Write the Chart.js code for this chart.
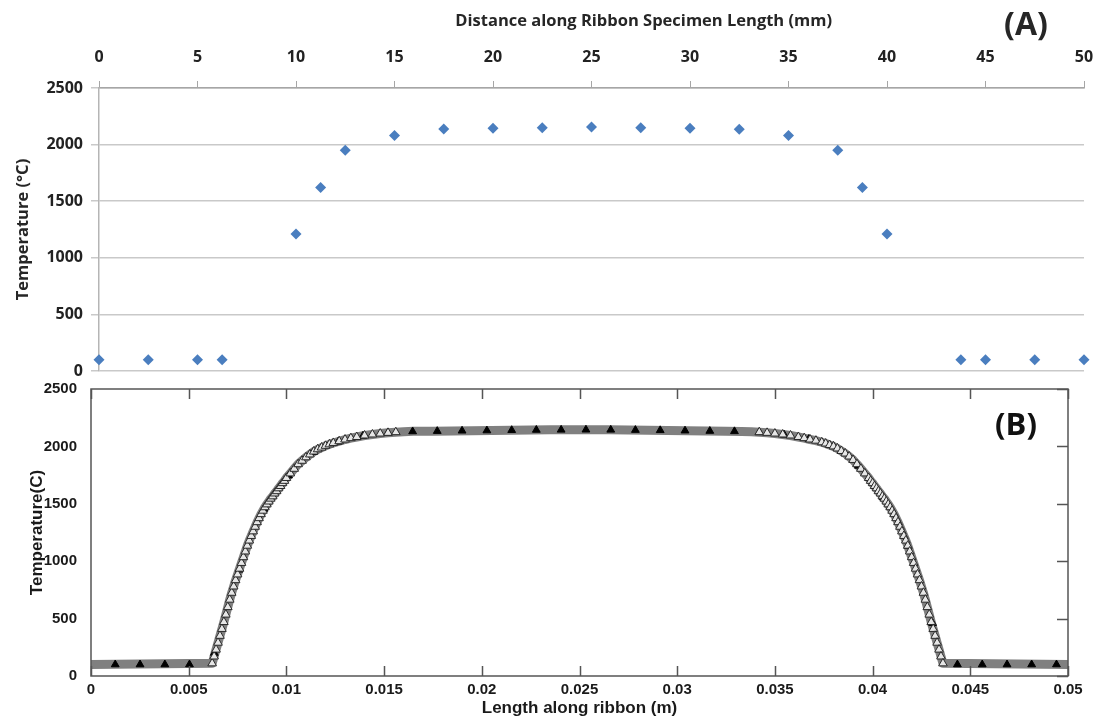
<!DOCTYPE html>
<html><head><meta charset="utf-8">
<script src="https://cdn.jsdelivr.net/npm/chart.js@4.4.1/dist/chart.umd.min.js"></script>
<style>
html,body{margin:0;padding:0;background:#fff;}
#wrap{position:relative;width:1102px;height:721px;overflow:hidden;background:#fff;}
#cA{position:absolute;left:0;top:0;width:1102px;height:380px;}
#cB{position:absolute;left:0;top:380px;width:1102px;height:341px;}
</style></head><body>
<div id="wrap"><canvas id="cA" width="1102" height="380"></canvas><canvas id="cB" width="1102" height="341"></canvas></div>
<script>
// ---------- Panel A data (measured points) ----------
const aDistanceMm = [0, 2.5, 5, 6.25, 10, 11.25, 12.5, 15, 17.5, 20, 22.5, 25, 27.5, 30, 32.5, 35, 37.5, 38.75, 40, 43.75, 45, 47.5, 50];
const aTemperature = [100, 100, 100, 100, 1210, 1620, 1950, 2080, 2138, 2144, 2149, 2155, 2149, 2144, 2136, 2080, 1950, 1620, 1210, 100, 100, 100, 100];
const aXTickLabels = ['0','5','10','15','20','25','30','35','40','45','50'];
const aYTickLabels = ['0','500','1000','1500','2000','2500'];
const aTopTitle = 'Distance along Ribbon Specimen Length (mm)';
const aYTitle = 'Temperature (°C)';
const aPanel = '(A)';

// ---------- Panel B data (simulation along ribbon) ----------
const bCurveX = [
  0.0062,0.0063,0.0064,0.0065,0.0066,0.0067,0.0068,0.0069,0.0070,0.0071,0.0072,0.0073,0.0074,0.0075,0.0076,0.0077,0.0078,0.0079,0.0080,
  0.0081,0.0082,0.0083,0.0084,0.0085,0.0086,0.0087,0.0088,0.0089,0.0090,0.0091,0.0092,0.0093,0.0094,0.0095,0.0096,0.0097,0.0098,0.0099,0.0100,
  0.0102,0.0104,0.0106,0.0108,0.0110,0.0112,0.0114,0.0116,0.0118,0.0120,0.0122,0.0124,0.0127,0.0130,0.0133,0.0136,0.0140,0.0144,0.0148,0.0152,0.0156,0.0160,
  0.0165,0.0175,0.0185,0.0195,0.0205,0.0215,0.0225,0.0235,0.0245,0.0255,0.0265,0.0275,0.0285,0.0295,0.0305,0.0315,0.0325,0.0333,
  0.0338,0.0342,0.0346,0.0350,0.0354,0.0358,0.0362,0.0365,0.0368,0.0371,0.0374,0.0376,0.0378,0.0380,0.0382,0.0384,0.0386,0.0388,0.0390,0.0392,0.0394,0.0396,0.0398,
  0.0399,0.0400,0.0401,0.0402,0.0403,0.0404,0.0405,0.0406,0.0407,0.0408,0.0409,0.0410,0.0411,0.0412,0.0413,0.0414,0.0415,0.0416,0.0417,0.0418,0.0419,
  0.0420,0.0421,0.0422,0.0423,0.0424,0.0425,0.0426,0.0427,0.0428,0.0429,0.0430,0.0431,0.0432,0.0433,0.0434,0.0435,0.0436
];
const bCurveT = [
  110,170,230,290,350,410,470,535,600,665,725,780,835,885,935,985,1035,1085,1135,
  1180,1220,1260,1300,1340,1375,1410,1440,1470,1495,1520,1545,1565,1590,1610,1635,1655,1680,1700,1725,
  1765,1805,1845,1875,1905,1930,1955,1975,1990,2005,2018,2030,2045,2060,2072,2082,2095,2104,2112,2118,2124,2128,
  2131,2133,2135,2137,2139,2141,2143,2144,2145,2145,2144,2142,2140,2138,2136,2134,2132,2130,
  2128,2124,2118,2112,2104,2095,2082,2072,2060,2050,2036,2025,2012,2000,1982,1960,1938,1912,1882,1845,1805,1765,1725,
  1700,1680,1655,1635,1610,1590,1565,1545,1520,1495,1470,1440,1410,1375,1340,1300,1260,1220,1180,1135,1085,
  1035,985,935,885,835,780,725,665,600,535,470,410,350,290,230,170,110
];
const bFlatX = [0, 0.05];
const bFlatT = [100, 100];
const bMarkX = [0.00124,0.00251,0.00378,0.00504,0.00631,0.00758,0.00885,0.01011,0.01138,0.01265,0.01392,0.01519,0.01646,0.01772,0.01899,0.02026,0.02153,0.02279,0.02406,0.02533,0.02660,0.02786,0.02913,0.03040,0.03167,0.03293,0.03420,0.03547,0.03674,0.03800,0.03927,0.04054,0.04181,0.04307,0.04434,0.04561,0.04688,0.04814,0.04941];
const bMarkT = [100,100,100,100,200,925,1455,1745,1950,2040,2092,2118,2130,2133,2136,2138,2141,2143,2144,2145,2144,2142,2140,2137,2134,2131,2122,2102,2065,2000,1830,1555,1130,460,100,100,100,100,100];
const bXTickLabels = ['0','0.005','0.01','0.015','0.02','0.025','0.03','0.035','0.04','0.045','0.05'];
const bYTickLabels = ['0','500','1000','1500','2000','2500'];
const bXTitle = 'Length along ribbon (m)';
const bYTitle = 'Temperature(C)';
const bPanel = '(B)';

// ---------- helpers ----------
const fontA = "'Open Sans', 'DejaVu Sans', sans-serif";
const fontB = "'Liberation Sans', Arial, sans-serif";
const pts = (xs, ys) => xs.map((x, i) => ({x: x, y: ys[i]}));

const curvePts = pts(bCurveX, bCurveT);
const bandPts = [{x: bFlatX[0], y: bFlatT[0]}].concat(curvePts, [{x: bFlatX[1], y: bFlatT[1]}]);

// ---------- Panel A ----------
const labelsA = {
  id: 'labelsA',
  afterDraw(chart) {
    const c = chart.ctx, a = chart.chartArea;
    c.save();
    c.fillStyle = '#262626';
    c.textAlign = 'center';
    c.textBaseline = 'middle';
    c.font = "bold 16.5px " + fontA;
    c.fillText(aTopTitle, a.left + (a.right - a.left) * 0.553, 21);
    c.font = "bold 32px " + fontA;
    c.fillText(aPanel, 1026, 26);
    c.restore();
  }
};

new Chart(document.getElementById('cA'), {
  type: 'scatter',
  data: {
    datasets: [{
      data: pts(aDistanceMm, aTemperature),
      pointStyle: 'rectRot',
      pointRadius: 5.5,
      backgroundColor: '#4a7ebf',
      borderColor: '#4a7ebf',
      borderWidth: 0,
      showLine: false,
      clip: false
    }]
  },
  options: {
    responsive: false, animation: false, devicePixelRatio: 1,
    layout: {padding: {left: 0, top: 0, right: 18, bottom: 9}},
    plugins: {legend: {display: false}, tooltip: {enabled: false}},
    scales: {
      x: {
        type: 'linear', position: 'top', min: 0, max: 50,
        ticks: {stepSize: 5, callback: (v, i) => aXTickLabels[i], font: {family: fontA, size: 16, weight: 'bold'}, color: '#222', padding: 14, maxRotation: 0, autoSkip: false},
        grid: {display: true, drawOnChartArea: false, drawTicks: true, tickLength: 7, color: '#a6a6a6', lineWidth: 1},
        border: {display: true, color: '#a6a6a6', width: 1.5},
        afterFit: s => { s.height = 88; s.paddingLeft = 0; s.paddingRight = 0; }
      },
      y: {
        type: 'linear', min: 0, max: 2500,
        ticks: {stepSize: 500, callback: (v, i) => aYTickLabels[i], font: {family: fontA, size: 16, weight: 'bold'}, color: '#222', padding: 8},
        grid: {color: '#c9c9c9', lineWidth: 1.5, drawTicks: true, tickLength: 8},
        border: {display: true, color: '#b5b5b5', width: 1.5},
        title: {display: true, text: aYTitle, font: {family: fontA, size: 16.5, weight: 'bold'}, color: '#262626', padding: {top: 13, bottom: 0}},
        afterFit: s => { s.width = 99; s.paddingTop = 0; s.paddingBottom = 0; }
      }
    }
  },
  plugins: [labelsA]
});

// ---------- Panel B ----------
const boxB = {
  id: 'boxB',
  afterDraw(chart) {
    const c = chart.ctx, a = chart.chartArea;
    const xs = chart.scales.x, ys = chart.scales.y;
    c.save();
    c.strokeStyle = '#555';
    c.lineWidth = 1.5;
    c.strokeRect(a.left, a.top, a.right - a.left, a.bottom - a.top);
    c.beginPath();
    xs.ticks.forEach(t => {
      const px = Math.round(xs.getPixelForValue(t.value)) + 0.5;
      c.moveTo(px, a.bottom); c.lineTo(px, a.bottom - 10);
      c.moveTo(px, a.top); c.lineTo(px, a.top + 10);
    });
    ys.ticks.forEach(t => {
      const py = Math.round(ys.getPixelForValue(t.value)) + 0.5;
      c.moveTo(a.right, py); c.lineTo(a.right - 11, py);
    });
    c.stroke();
    c.fillStyle = '#111';
    c.textAlign = 'center';
    c.textBaseline = 'middle';
    c.font = "bold 31px " + fontA;
    c.fillText(bPanel, 1016, 46);
    c.restore();
  }
};

new Chart(document.getElementById('cB'), {
  type: 'scatter',
  data: {
    datasets: [
      {
        label: 'simulation (open)', data: curvePts, order: 1,
        pointStyle: 'triangle',
        pointRadius: ctx => (ctx.raw && ctx.raw.y >= 2125) ? 0 : 5,
        backgroundColor: '#e6e6e6', borderColor: '#2a2a2a', borderWidth: 1,
        showLine: false, clip: false
      },
      {
        label: 'simulation (filled)', data: pts(bMarkX, bMarkT), order: 2,
        pointStyle: 'triangle', pointRadius: 4.5,
        backgroundColor: '#000', borderColor: '#000', borderWidth: 1,
        showLine: false, clip: false
      },
      {
        label: 'band', data: bandPts, order: 3,
        showLine: true, borderColor: '#808080', borderWidth: 9,
        borderJoinStyle: 'round', borderCapStyle: 'butt',
        pointRadius: 0, tension: 0, clip: false
      }
    ]
  },
  options: {
    responsive: false, animation: false, devicePixelRatio: 1,
    layout: {padding: {left: 0, top: 9, right: 34, bottom: 0}},
    plugins: {legend: {display: false}, tooltip: {enabled: false}},
    scales: {
      x: {
        type: 'linear', position: 'bottom', min: 0, max: 0.05,
        ticks: {stepSize: 0.005, callback: (v, i) => bXTickLabels[i], font: {family: fontB, size: 15, weight: 'bold'}, color: '#1a1a1a', padding: -3, maxRotation: 0, autoSkip: false},
        grid: {display: false},
        border: {display: false},
        title: {display: true, text: bXTitle, font: {family: fontB, size: 17, weight: 'bold'}, color: '#1a1a1a', padding: {top: 0, bottom: 2}},
        afterFit: s => { s.height = 45; s.paddingLeft = 0; s.paddingRight = 0; }
      },
      y: {
        type: 'linear', min: 0, max: 2500,
        ticks: {stepSize: 500, callback: (v, i) => bYTickLabels[i], font: {family: fontB, size: 15, weight: 'bold'}, color: '#1a1a1a', padding: 6},
        grid: {display: false},
        border: {display: false},
        title: {display: true, text: bYTitle, font: {family: fontB, size: 17, weight: 'bold'}, color: '#1a1a1a', padding: {top: 27, bottom: 0}},
        afterFit: s => { s.width = 91; s.paddingTop = 0; s.paddingBottom = 0; }
      }
    }
  },
  plugins: [boxB]
});
</script>
</body></html>
